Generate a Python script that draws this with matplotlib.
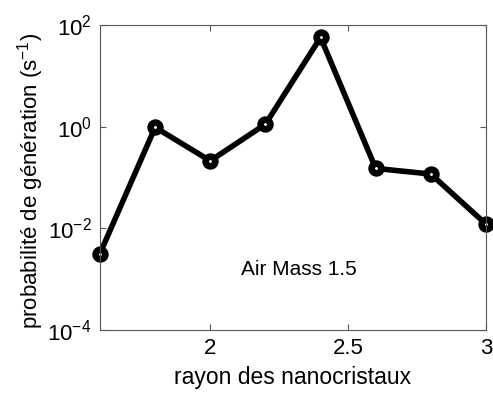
import matplotlib
matplotlib.use("Agg")
import matplotlib.pyplot as plt
from matplotlib.ticker import FuncFormatter
import math

plt.rcParams['font.family'] = ['Liberation Sans', 'DejaVu Sans']
plt.rcParams['mathtext.fontset'] = 'custom'
plt.rcParams['mathtext.rm'] = 'Liberation Sans'
plt.rcParams['mathtext.it'] = 'Liberation Sans'
plt.rcParams['mathtext.default'] = 'rm'

# data
rayon = [1.6, 1.8, 2.0, 2.2, 2.4, 2.6, 2.8, 3.0]
proba = [3.2e-3, 0.97, 0.213, 1.12, 57.0, 0.151, 0.117, 0.0121]

xticks = [2, 2.5, 3]
xtick_labels = ["2", "2.5", "3"]
yticks = [1e-4, 1e-2, 1e0, 1e2]


def pow10(v, pos):
    return r"$10^{%d}$" % round(math.log10(v))


fig = plt.figure(figsize=(4.93, 3.94), dpi=100)
ax = fig.add_axes([0.2028, 0.1624, 0.7830, 0.7741])

ax.plot(rayon, proba, color="black", linewidth=4.0, marker="o",
        markersize=7, markeredgewidth=4.8, markerfacecolor="white",
        markeredgecolor="black", clip_on=False)

ax.set_yscale("log")
ax.set_xlim(1.6, 3.0)
ax.set_ylim(1e-4, 1e2)
ax.set_xticks(xticks)
ax.set_xticklabels(xtick_labels)
ax.set_yticks(yticks)
ax.yaxis.set_major_formatter(FuncFormatter(pow10))
ax.minorticks_off()

for sp in ax.spines.values():
    sp.set_color("#555555")
    sp.set_linewidth(0.8)
ax.tick_params(direction="in", length=4, width=0.8, color="#555555",
               labelsize=16, top=True, right=True, pad=6)

ax.set_xlabel("rayon des nanocristaux", fontsize=16.5)
ax.set_ylabel("probabilité de génération (s$^{-1}$)", fontsize=16)
ax.xaxis.set_label_coords(0.5, -0.118)
ax.yaxis.set_label_coords(-0.140, 0.49)

ax.text(0.516, 0.197, "Air Mass 1.5", transform=ax.transAxes,
        fontsize=15, ha="center", va="center")

fig.savefig("out.png", dpi=100)
